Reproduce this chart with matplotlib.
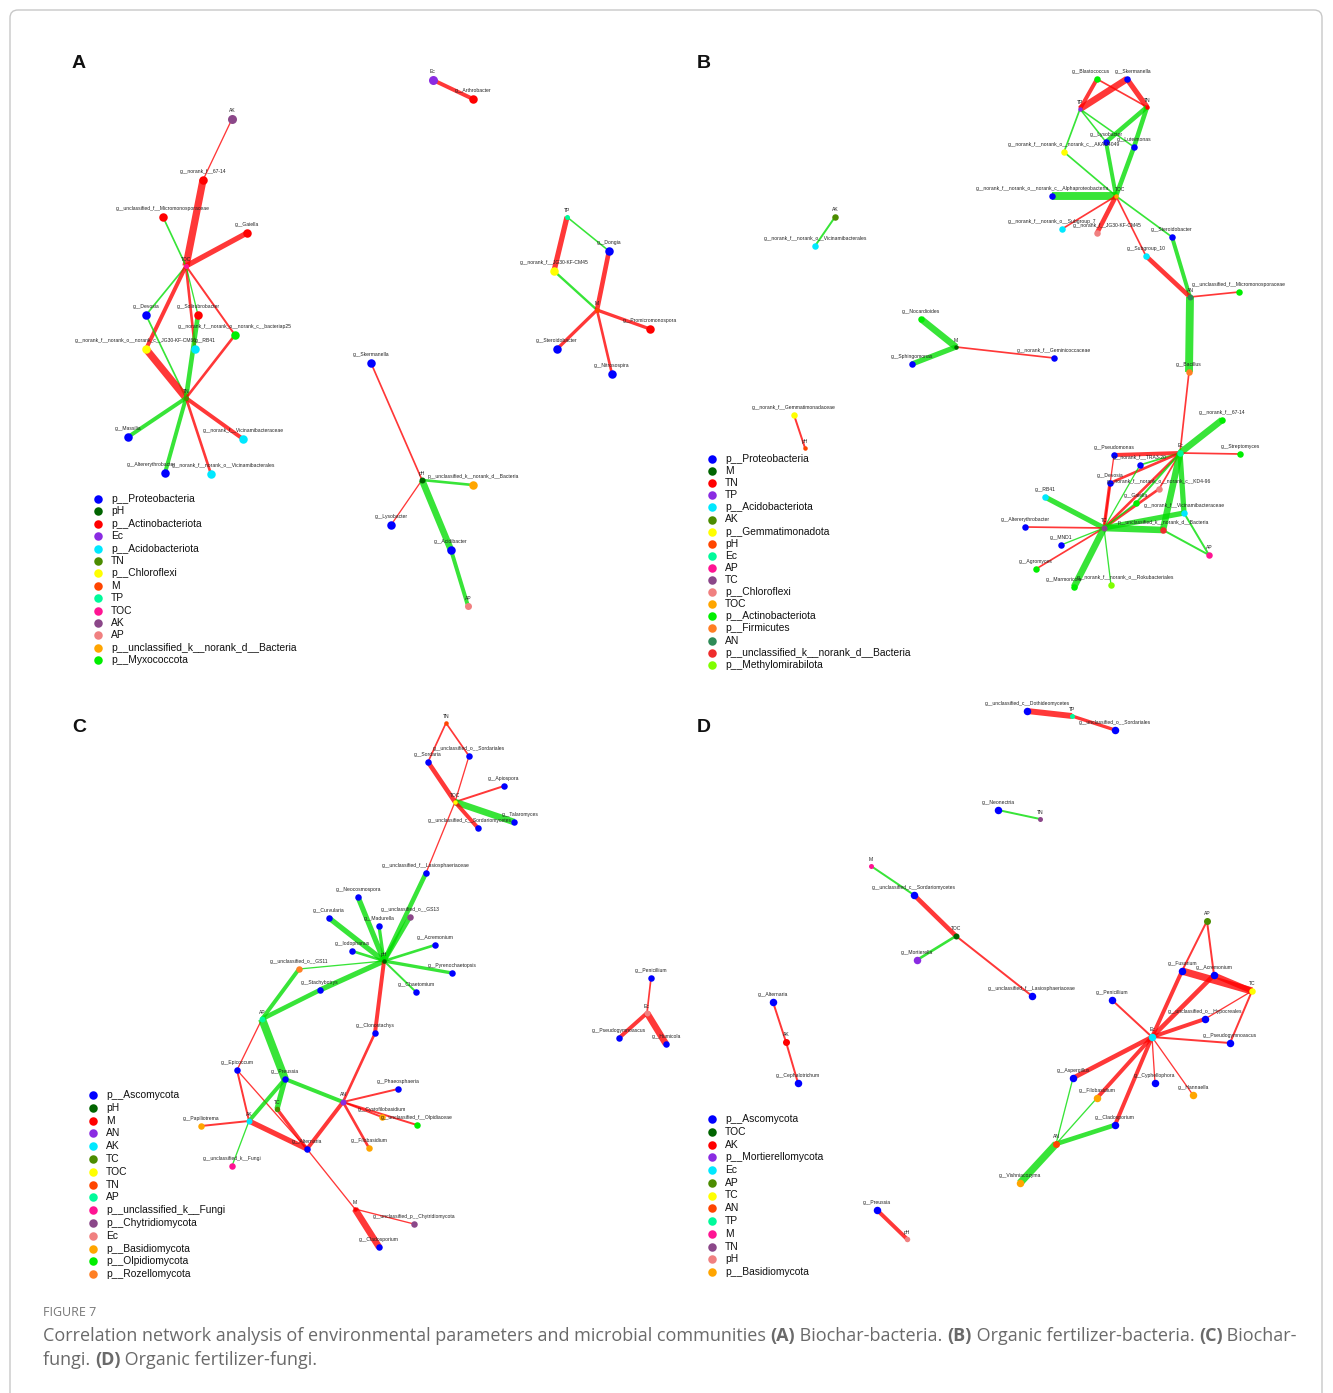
import matplotlib.pyplot as plt
from matplotlib.patches import FancyBboxPatch

plt.rcParams["font.family"] = ["Liberation Sans", "DejaVu Sans"]

DPI = 100
W, H = 1333, 1393

# colour cycle used for the legend groups, in legend order
PALETTE = ["#0000ff", "#006400", "#ff0000", "#8a2be2", "#00e8ff", "#4c8c00",
           "#ffff00", "#ff4500", "#00fa9a", "#ff1493", "#8b4789", "#f08080",
           "#ffa500", "#00ee00", "#ff7f24", "#2e8b57", "#ee2c2c", "#7fff00"]
RED = "#ff0000"
GREEN = "#00dd00"

ENV = {"pH", "TN", "TP", "TOC", "AK", "AP", "AN", "TC", "M", "Ec"}

# ---------------- A: biochar - bacteria ----------------
A_groups = ["p__Proteobacteria", "pH", "p__Actinobacteriota", "Ec", "p__Acidobacteriota",
            "TN", "p__Chloroflexi", "M", "TP", "TOC", "AK", "AP",
            "p__unclassified_k__norank_d__Bacteria", "p__Myxococcota"]
A_nodes = {
    "AK": "AK", "TOC": "TOC", "TN": "TN", "Ec": "Ec", "TP": "TP", "M": "M", "pH": "pH", "AP": "AP",
    "g__norank_f__67-14": "p__Actinobacteriota",
    "g__unclassified_f__Micromonosporaceae": "p__Actinobacteriota",
    "g__Gaiella": "p__Actinobacteriota",
    "g__Devosia": "p__Proteobacteria",
    "g__Solirubrobacter": "p__Actinobacteriota",
    "g__norank_f__norank_o__norank_c__bacteriap25": "p__Myxococcota",
    "g__norank_f__norank_o__norank_c__JG30-KF-CM66": "p__Chloroflexi",
    "g__RB41": "p__Acidobacteriota",
    "g__Massilia": "p__Proteobacteria",
    "g__norank_f__Vicinamibacteraceae": "p__Acidobacteriota",
    "g__Altererythrobacter": "p__Proteobacteria",
    "g__norank_f__norank_o__Vicinamibacterales": "p__Acidobacteriota",
    "g__Arthrobacter": "p__Actinobacteriota",
    "g__Dongia": "p__Proteobacteria",
    "g__norank_f__JG30-KF-CM45": "p__Chloroflexi",
    "g__Promicromonospora": "p__Actinobacteriota",
    "g__Steroidobacter": "p__Proteobacteria",
    "g__Nitrosospira": "p__Proteobacteria",
    "g__Skermanella": "p__Proteobacteria",
    "p__unclassified_k__norank_d__Bacteria": "p__unclassified_k__norank_d__Bacteria",
    "g__Lysobacter": "p__Proteobacteria",
    "g__Acidibacter": "p__Proteobacteria",
}
# signed edge strength: + positive (red), - negative (green)
A_edges = [
    ("AK", "g__norank_f__67-14", 1.0),
    ("g__norank_f__67-14", "TOC", 5.5),
    ("g__unclassified_f__Micromonosporaceae", "TOC", -1.3),
    ("g__Gaiella", "TOC", 4.0),
    ("TOC", "g__Devosia", -1.3),
    ("TOC", "g__norank_f__norank_o__norank_c__JG30-KF-CM66", 3.0),
    ("TOC", "g__RB41", 2.0),
    ("TOC", "g__Solirubrobacter", -1.0),
    ("TOC", "g__norank_f__norank_o__norank_c__bacteriap25", 1.5),
    ("g__Devosia", "TN", -1.3),
    ("g__norank_f__norank_o__norank_c__JG30-KF-CM66", "TN", 5.5),
    ("g__Solirubrobacter", "TN", -3.5),
    ("g__norank_f__norank_o__norank_c__bacteriap25", "TN", 2.0),
    ("TN", "g__Massilia", -3.0),
    ("TN", "g__norank_f__Vicinamibacteraceae", 3.0),
    ("TN", "g__Altererythrobacter", -3.0),
    ("TN", "g__norank_f__norank_o__Vicinamibacterales", 2.0),
    ("Ec", "g__Arthrobacter", 3.0),
    ("TP", "g__norank_f__JG30-KF-CM45", 4.0),
    ("TP", "g__Dongia", -1.2),
    ("g__norank_f__JG30-KF-CM45", "M", -1.8),
    ("g__Dongia", "M", 3.5),
    ("M", "g__Promicromonospora", 2.5),
    ("M", "g__Steroidobacter", 2.5),
    ("M", "g__Nitrosospira", 2.0),
    ("g__Skermanella", "pH", 1.3),
    ("pH", "p__unclassified_k__norank_d__Bacteria", -2.0),
    ("pH", "g__Lysobacter", 1.0),
    ("pH", "g__Acidibacter", -5.0),
    ("g__Acidibacter", "AP", -3.0),
]

# ---------------- B: organic fertilizer - bacteria ----------------
B_groups = ["p__Proteobacteria", "M", "TN", "TP", "p__Acidobacteriota", "AK",
            "p__Gemmatimonadota", "pH", "Ec", "AP", "TC", "p__Chloroflexi", "TOC",
            "p__Actinobacteriota", "p__Firmicutes", "AN",
            "p__unclassified_k__norank_d__Bacteria", "p__Methylomirabilota"]
B_nodes = {
    "TP": "TP", "TN": "TN", "TOC": "TOC", "AN": "AN", "Ec": "Ec", "TC": "TC", "AP": "AP",
    "AK": "AK", "M": "M", "pH": "pH",
    "g__Blastococcus": "p__Actinobacteriota",
    "g__Skermanella": "p__Proteobacteria",
    "g__Lysobacter": "p__Proteobacteria",
    "g__Luteimonas": "p__Proteobacteria",
    "g__norank_f__norank_o__norank_c__AKAU4049": "p__Gemmatimonadota",
    "g__norank_f__norank_o__norank_c__Alphaproteobacteria": "p__Proteobacteria",
    "g__norank_f__norank_o__Subgroup_7": "p__Acidobacteriota",
    "g__norank_f__JG30-KF-CM45": "p__Chloroflexi",
    "g__Steroidobacter": "p__Proteobacteria",
    "g__Subgroup_10": "p__Acidobacteriota",
    "g__unclassified_f__Micromonosporaceae": "p__Actinobacteriota",
    "g__Bacillus": "p__Firmicutes",
    "g__norank_f__67-14": "p__Actinobacteriota",
    "g__Streptomyces": "p__Actinobacteriota",
    "g__Pseudomonas": "p__Proteobacteria",
    "g__norank_f__TRA3-20": "p__Proteobacteria",
    "g__Devosia": "p__Proteobacteria",
    "g__norank_f__norank_o__norank_c__KD4-96": "p__Chloroflexi",
    "g__Gaiella": "p__Actinobacteriota",
    "g__RB41": "p__Acidobacteriota",
    "g__norank_f__Vicinamibacteraceae": "p__Acidobacteriota",
    "g__Altererythrobacter": "p__Proteobacteria",
    "p__unclassified_k__norank_d__Bacteria": "p__unclassified_k__norank_d__Bacteria",
    "g__MND1": "p__Proteobacteria",
    "g__Agromyces": "p__Actinobacteriota",
    "g__Marmoricola": "p__Actinobacteriota",
    "g__norank_f__norank_o__Rokubacteriales": "p__Methylomirabilota",
    "g__norank_f__norank_o__Vicinamibacterales": "p__Acidobacteriota",
    "g__Nocardioides": "p__Actinobacteriota",
    "g__Sphingomonas": "p__Proteobacteria",
    "g__norank_f__Geminicoccaceae": "p__Proteobacteria",
    "g__norank_f__Gemmatimonadaceae": "p__Gemmatimonadota",
}
B_edges = [
    ("g__Blastococcus", "TP", 3.0),
    ("g__Blastococcus", "TN", 1.3),
    ("g__Skermanella", "TP", 5.0),
    ("g__Skermanella", "TN", 4.0),
    ("TP", "g__norank_f__norank_o__norank_c__AKAU4049", -1.3),
    ("TP", "g__Lysobacter", -1.2),
    ("TP", "g__Luteimonas", -1.2),
    ("TN", "g__Lysobacter", -3.5),
    ("TN", "g__Luteimonas", -3.5),
    ("g__Luteimonas", "TOC", -3.5),
    ("g__Lysobacter", "TOC", -3.0),
    ("g__norank_f__norank_o__norank_c__AKAU4049", "TOC", -1.3),
    ("g__norank_f__norank_o__norank_c__Alphaproteobacteria", "TOC", -6.0),
    ("TOC", "g__norank_f__norank_o__Subgroup_7", 1.3),
    ("TOC", "g__norank_f__JG30-KF-CM45", 3.5),
    ("TOC", "g__Subgroup_10", 1.3),
    ("TOC", "g__Steroidobacter", -1.3),
    ("g__Steroidobacter", "AN", -3.0),
    ("g__Subgroup_10", "AN", 3.5),
    ("AN", "g__unclassified_f__Micromonosporaceae", 1.3),
    ("AN", "g__Bacillus", -6.0),
    ("g__Bacillus", "Ec", 1.3),
    ("Ec", "g__norank_f__67-14", -5.0),
    ("Ec", "g__Streptomyces", 1.3),
    ("Ec", "g__Pseudomonas", 3.0),
    ("Ec", "g__norank_f__TRA3-20", -1.3),
    ("Ec", "g__Devosia", 2.0),
    ("Ec", "TC", 2.0),
    ("Ec", "g__norank_f__norank_o__norank_c__KD4-96", 1.3),
    ("Ec", "g__Gaiella", -1.5),
    ("Ec", "g__norank_f__Vicinamibacteraceae", -4.0),
    ("Ec", "p__unclassified_k__norank_d__Bacteria", -5.0),
    ("g__Pseudomonas", "TC", 1.0),
    ("g__Devosia", "TC", 2.5),
    ("g__norank_f__TRA3-20", "TC", -1.0),
    ("g__norank_f__norank_o__norank_c__KD4-96", "TC", 2.0),
    ("g__Gaiella", "TC", -1.2),
    ("TC", "g__RB41", -4.0),
    ("TC", "g__Altererythrobacter", 1.3),
    ("TC", "g__MND1", -1.0),
    ("TC", "g__Agromyces", 1.3),
    ("TC", "g__Marmoricola", -5.0),
    ("TC", "g__norank_f__norank_o__Rokubacteriales", -1.0),
    ("TC", "g__norank_f__Vicinamibacteraceae", -4.0),
    ("TC", "p__unclassified_k__norank_d__Bacteria", -5.0),
    ("p__unclassified_k__norank_d__Bacteria", "AP", -1.5),
    ("g__norank_f__Vicinamibacteraceae", "AP", -1.5),
    ("AK", "g__norank_f__norank_o__Vicinamibacterales", -1.5),
    ("M", "g__Nocardioides", -5.0),
    ("M", "g__Sphingomonas", -4.0),
    ("M", "g__norank_f__Geminicoccaceae", 1.3),
    ("g__norank_f__Gemmatimonadaceae", "pH", 1.5),
]

# ---------------- C: biochar - fungi ----------------
C_groups = ["p__Ascomycota", "pH", "M", "AN", "AK", "TC", "TOC", "TN", "AP",
            "p__unclassified_k__Fungi", "p__Chytridiomycota", "Ec", "p__Basidiomycota",
            "p__Olpidiomycota", "p__Rozellomycota"]
C_nodes = {
    "TN": "TN", "TOC": "TOC", "pH": "pH", "AP": "AP", "AN": "AN", "TC": "TC", "AK": "AK",
    "M": "M", "Ec": "Ec",
    "g__Sordaria": "p__Ascomycota",
    "g__unclassified_o__Sordariales": "p__Ascomycota",
    "g__Apiospora": "p__Ascomycota",
    "g__Talaromyces": "p__Ascomycota",
    "g__unclassified_c__Sordariomycetes": "p__Ascomycota",
    "g__unclassified_f__Lasiosphaeriaceae": "p__Ascomycota",
    "g__Neocosmospora": "p__Ascomycota",
    "g__unclassified_o__GS13": "p__Chytridiomycota",
    "g__Curvularia": "p__Ascomycota",
    "g__Madurella": "p__Ascomycota",
    "g__Acremonium": "p__Ascomycota",
    "g__Iodophanus": "p__Ascomycota",
    "g__unclassified_o__GS11": "p__Rozellomycota",
    "g__Pyrenochaetopsis": "p__Ascomycota",
    "g__Stachybotrys": "p__Ascomycota",
    "g__Chaetomium": "p__Ascomycota",
    "g__Clonostachys": "p__Ascomycota",
    "g__Epicoccum": "p__Ascomycota",
    "g__Preussia": "p__Ascomycota",
    "g__Phaeosphaeria": "p__Ascomycota",
    "g__Cystofilobasidium": "p__Basidiomycota",
    "g__unclassified_f__Olpidiaceae": "p__Olpidiomycota",
    "g__Papiliotrema": "p__Basidiomycota",
    "g__Filobasidium": "p__Basidiomycota",
    "g__Alternaria": "p__Ascomycota",
    "g__unclassified_k__Fungi": "p__unclassified_k__Fungi",
    "g__unclassified_p__Chytridiomycota": "p__Chytridiomycota",
    "g__Cladosporium": "p__Ascomycota",
    "g__Penicillium": "p__Ascomycota",
    "g__Pseudogymnoascus": "p__Ascomycota",
    "g__Humicola": "p__Ascomycota",
}
C_edges = [
    ("TN", "g__Sordaria", 1.3),
    ("TN", "g__unclassified_o__Sordariales", 1.3),
    ("g__Sordaria", "TOC", 3.5),
    ("g__unclassified_o__Sordariales", "TOC", 1.0),
    ("TOC", "g__Apiospora", 1.5),
    ("TOC", "g__Talaromyces", -5.0),
    ("TOC", "g__unclassified_c__Sordariomycetes", 3.0),
    ("TOC", "g__unclassified_f__Lasiosphaeriaceae", 1.0),
    ("g__unclassified_f__Lasiosphaeriaceae", "pH", -3.5),
    ("pH", "g__Neocosmospora", -4.0),
    ("pH", "g__unclassified_o__GS13", -3.5),
    ("pH", "g__Curvularia", -4.0),
    ("pH", "g__Madurella", -2.5),
    ("pH", "g__Iodophanus", -2.0),
    ("pH", "g__Acremonium", -2.0),
    ("pH", "g__unclassified_o__GS11", -1.0),
    ("pH", "g__Pyrenochaetopsis", -2.5),
    ("pH", "g__Chaetomium", -1.5),
    ("pH", "g__Stachybotrys", -4.0),
    ("pH", "g__Clonostachys", 3.0),
    ("g__Stachybotrys", "AP", -3.5),
    ("g__unclassified_o__GS11", "AP", -3.0),
    ("AP", "g__Epicoccum", 1.0),
    ("AP", "g__Preussia", -6.0),
    ("g__Clonostachys", "AN", 2.0),
    ("g__Epicoccum", "AK", 1.5),
    ("g__Epicoccum", "g__Alternaria", 1.0),
    ("g__Preussia", "TC", -4.0),
    ("g__Preussia", "AN", -3.0),
    ("g__Preussia", "AK", -3.0),
    ("TC", "g__Alternaria", 2.5),
    ("AK", "g__Papiliotrema", 1.5),
    ("AK", "g__Alternaria", 4.0),
    ("AK", "g__unclassified_k__Fungi", -1.0),
    ("AN", "g__Phaeosphaeria", 1.5),
    ("AN", "g__Cystofilobasidium", 1.5),
    ("AN", "g__unclassified_f__Olpidiaceae", 1.5),
    ("AN", "g__Filobasidium", 2.0),
    ("AN", "g__Alternaria", 3.0),
    ("g__Alternaria", "M", 1.0),
    ("M", "g__unclassified_p__Chytridiomycota", 1.0),
    ("M", "g__Cladosporium", 5.0),
    ("g__Penicillium", "Ec", 1.3),
    ("Ec", "g__Pseudogymnoascus", 3.0),
    ("Ec", "g__Humicola", 5.0),
]

# ---------------- D: organic fertilizer - fungi ----------------
D_groups = ["p__Ascomycota", "TOC", "AK", "p__Mortierellomycota", "Ec", "AP", "TC",
            "AN", "TP", "M", "TN", "pH", "p__Basidiomycota"]
D_nodes = {
    "TP": "TP", "TN": "TN", "M": "M", "TOC": "TOC", "AP": "AP", "TC": "TC", "Ec": "Ec",
    "AN": "AN", "AK": "AK", "pH": "pH",
    "g__unclassified_c__Dothideomycetes": "p__Ascomycota",
    "g__unclassified_o__Sordariales": "p__Ascomycota",
    "g__Neonectria": "p__Ascomycota",
    "g__unclassified_c__Sordariomycetes": "p__Ascomycota",
    "g__Mortierella": "p__Mortierellomycota",
    "g__unclassified_f__Lasiosphaeriaceae": "p__Ascomycota",
    "g__Fusarium": "p__Ascomycota",
    "g__Acremonium": "p__Ascomycota",
    "g__Penicillium": "p__Ascomycota",
    "g__unclassified_o__Hypocreales": "p__Ascomycota",
    "g__Pseudogymnoascus": "p__Ascomycota",
    "g__Aspergillus": "p__Ascomycota",
    "g__Cyphellophora": "p__Ascomycota",
    "g__Filobasidium": "p__Basidiomycota",
    "g__Hannaella": "p__Basidiomycota",
    "g__Cladosporium": "p__Ascomycota",
    "g__Vishniacozyma": "p__Basidiomycota",
    "g__Alternaria": "p__Ascomycota",
    "g__Cephalotrichum": "p__Ascomycota",
    "g__Preussia": "p__Ascomycota",
}
D_edges = [
    ("g__unclassified_c__Dothideomycetes", "TP", 4.5),
    ("TP", "g__unclassified_o__Sordariales", 2.5),
    ("g__Neonectria", "TN", -1.5),
    ("M", "g__unclassified_c__Sordariomycetes", -1.5),
    ("g__unclassified_c__Sordariomycetes", "TOC", 3.5),
    ("TOC", "g__Mortierella", -2.0),
    ("TOC", "g__unclassified_f__Lasiosphaeriaceae", 1.5),
    ("AP", "g__Fusarium", 1.5),
    ("AP", "g__Acremonium", 1.5),
    ("g__Fusarium", "TC", 5.5),
    ("g__Acremonium", "TC", 4.0),
    ("g__Fusarium", "Ec", 3.0),
    ("g__Acremonium", "Ec", 3.5),
    ("TC", "g__unclassified_o__Hypocreales", 1.0),
    ("TC", "g__Pseudogymnoascus", 1.5),
    ("g__Penicillium", "Ec", 1.5),
    ("g__unclassified_o__Hypocreales", "Ec", 3.0),
    ("g__Pseudogymnoascus", "Ec", 1.5),
    ("Ec", "g__Aspergillus", 3.5),
    ("Ec", "g__Filobasidium", 3.0),
    ("Ec", "g__Cyphellophora", 1.0),
    ("Ec", "g__Hannaella", 1.0),
    ("Ec", "g__Cladosporium", 3.0),
    ("g__Aspergillus", "AN", -1.0),
    ("g__Filobasidium", "AN", -1.0),
    ("g__Cladosporium", "AN", -3.5),
    ("AN", "g__Vishniacozyma", -5.5),
    ("g__Alternaria", "AK", 1.5),
    ("AK", "g__Cephalotrichum", 1.5),
    ("g__Preussia", "pH", 3.0),
]

# ---------------- layouts (figure pixel space) ----------------
A_pos = {
    "AK": (232, 119), "g__norank_f__67-14": (203, 180),
    "g__unclassified_f__Micromonosporaceae": (163, 217), "g__Gaiella": (247, 233),
    "TOC": (186, 266), "g__Devosia": (146, 315), "g__Solirubrobacter": (198, 315),
    "g__norank_f__norank_o__norank_c__bacteriap25": (235, 335),
    "g__norank_f__norank_o__norank_c__JG30-KF-CM66": (146, 349), "g__RB41": (195, 349),
    "TN": (186, 398), "g__Massilia": (128, 437), "g__norank_f__Vicinamibacteraceae": (243, 439),
    "g__Altererythrobacter": (165, 473), "g__norank_f__norank_o__Vicinamibacterales": (211, 474),
    "Ec": (433, 80), "g__Arthrobacter": (473, 99), "TP": (567, 217), "g__Dongia": (609, 251),
    "g__norank_f__JG30-KF-CM45": (554, 271), "M": (597, 310), "g__Promicromonospora": (650, 329),
    "g__Steroidobacter": (557, 349), "g__Nitrosospira": (612, 374), "g__Skermanella": (371, 363),
    "pH": (422, 480), "p__unclassified_k__norank_d__Bacteria": (473, 485),
    "g__Lysobacter": (391, 525), "g__Acidibacter": (451, 550), "AP": (468, 606),
}
B_pos = {
    "g__Blastococcus": (1097, 79), "g__Skermanella": (1127, 79), "TP": (1080, 109),
    "TN": (1147, 107), "g__Lysobacter": (1106, 142), "g__Luteimonas": (1134, 147),
    "g__norank_f__norank_o__norank_c__AKAU4049": (1064, 152),
    "g__norank_f__norank_o__norank_c__Alphaproteobacteria": (1052, 196), "TOC": (1116, 196),
    "g__norank_f__norank_o__Subgroup_7": (1062, 229), "g__norank_f__JG30-KF-CM45": (1097, 233),
    "g__Steroidobacter": (1172, 237), "g__Subgroup_10": (1146, 256), "AN": (1190, 297),
    "g__unclassified_f__Micromonosporaceae": (1239, 292), "g__Bacillus": (1189, 372),
    "Ec": (1180, 453), "g__norank_f__67-14": (1222, 420), "g__Streptomyces": (1240, 454),
    "g__Pseudomonas": (1114, 455), "g__norank_f__TRA3-20": (1140, 465), "g__Devosia": (1110, 483),
    "g__norank_f__norank_o__norank_c__KD4-96": (1159, 489), "g__Gaiella": (1136, 503),
    "g__RB41": (1045, 497), "g__norank_f__Vicinamibacteraceae": (1184, 513),
    "g__Altererythrobacter": (1025, 527), "TC": (1104, 528),
    "p__unclassified_k__norank_d__Bacteria": (1163, 530), "g__MND1": (1061, 545),
    "AP": (1209, 555), "g__Agromyces": (1036, 569), "g__Marmoricola": (1074, 587),
    "g__norank_f__norank_o__Rokubacteriales": (1111, 585), "AK": (835, 217),
    "g__norank_f__norank_o__Vicinamibacterales": (815, 246), "g__Nocardioides": (921, 319),
    "M": (956, 347), "g__Sphingomonas": (912, 364), "g__norank_f__Geminicoccaceae": (1054, 358),
    "g__norank_f__Gemmatimonadaceae": (794, 415), "pH": (805, 448),
}
C_pos = {
    "TN": (446, 723), "g__Sordaria": (428, 762), "g__unclassified_o__Sordariales": (469, 756),
    "g__Apiospora": (504, 786), "TOC": (455, 802), "g__Talaromyces": (514, 822),
    "g__unclassified_c__Sordariomycetes": (478, 828),
    "g__unclassified_f__Lasiosphaeriaceae": (426, 873), "g__Neocosmospora": (358, 897),
    "g__unclassified_o__GS13": (410, 917), "g__Curvularia": (329, 918), "g__Madurella": (379, 926),
    "g__Acremonium": (435, 945), "g__Iodophanus": (352, 951), "pH": (384, 961),
    "g__unclassified_o__GS11": (299, 969), "g__Pyrenochaetopsis": (452, 973),
    "g__Stachybotrys": (320, 990), "g__Chaetomium": (416, 992), "AP": (262, 1019),
    "g__Clonostachys": (375, 1033), "g__Epicoccum": (237, 1070), "g__Preussia": (285, 1079),
    "g__Phaeosphaeria": (398, 1089), "AN": (343, 1102), "TC": (277, 1109),
    "g__Cystofilobasidium": (382, 1117), "g__unclassified_f__Olpidiaceae": (417, 1125),
    "AK": (249, 1121), "g__Papiliotrema": (201, 1126), "g__Filobasidium": (369, 1148),
    "g__Alternaria": (307, 1149), "g__unclassified_k__Fungi": (232, 1166), "M": (355, 1209),
    "g__unclassified_p__Chytridiomycota": (414, 1224), "g__Cladosporium": (379, 1247),
    "g__Penicillium": (651, 978), "Ec": (647, 1013), "g__Pseudogymnoascus": (619, 1038),
    "g__Humicola": (666, 1044),
}
D_pos = {
    "g__unclassified_c__Dothideomycetes": (1027, 711), "TP": (1072, 716),
    "g__unclassified_o__Sordariales": (1115, 730), "g__Neonectria": (998, 810), "TN": (1040, 819),
    "M": (871, 866), "g__unclassified_c__Sordariomycetes": (914, 895), "TOC": (956, 936),
    "g__Mortierella": (917, 960), "g__unclassified_f__Lasiosphaeriaceae": (1032, 996),
    "AP": (1207, 921), "g__Fusarium": (1182, 971), "g__Acremonium": (1214, 975),
    "TC": (1252, 991), "g__Penicillium": (1112, 1000), "g__unclassified_o__Hypocreales": (1205, 1019),
    "Ec": (1152, 1037), "g__Pseudogymnoascus": (1230, 1043), "g__Aspergillus": (1073, 1078),
    "g__Cyphellophora": (1155, 1083), "g__Filobasidium": (1097, 1098), "g__Hannaella": (1193, 1095),
    "g__Cladosporium": (1115, 1125), "AN": (1056, 1144), "g__Vishniacozyma": (1020, 1183),
    "g__Alternaria": (773, 1002), "AK": (786, 1042), "g__Cephalotrichum": (798, 1083),
    "g__Preussia": (877, 1210), "pH": (907, 1239),
}

# label nudges (dx, dy) where neighbouring labels would sit on top of each other
A_nudge = {"g__norank_f__norank_o__norank_c__JG30-KF-CM66": (-10, 0), "g__RB41": (10, 0),
           "g__Altererythrobacter": (-14, 0), "g__norank_f__norank_o__Vicinamibacterales": (12, 0)}
B_nudge = {"g__norank_f__norank_o__norank_c__Alphaproteobacteria": (-10, 0), "TOC": (4, 0),
           "g__Blastococcus": (-6, 0), "g__Skermanella": (6, 0),
           "g__Marmoricola": (-10, 0), "g__norank_f__norank_o__Rokubacteriales": (14, 0),
           "g__norank_f__norank_o__Subgroup_7": (-10, 0), "g__norank_f__JG30-KF-CM45": (10, 0)}
C_nudge = {"g__unclassified_c__Sordariomycetes": (-8, 0), "g__Talaromyces": (6, 0)}
D_nudge = {}

# node diameters in pixels: taxa, environmental factors, and the larger factor nodes
A_size = (8.5, 5, {"AK": 9, "Ec": 9, "AP": 7, "pH": 6})
B_size = (6.5, 4.5, {"AN": 6, "Ec": 6.5, "TC": 6, "AP": 6.5, "AK": 6.5})
C_size = (6.5, 4.5, {"AP": 6, "AK": 6, "AN": 6, "TC": 5.5, "Ec": 6})
D_size = (7.5, 5, {"AP": 7, "AK": 7, "AN": 7, "Ec": 7.5, "TC": 6.5, "TOC": 6, "pH": 5.5})

# legend anchor (marker x, first row y, row step)
A_leg = (98, 499, 12.4)
B_leg = (712, 459, 12.1)
C_leg = (93, 1095, 12.8)
D_leg = (712, 1119, 12.75)


def pt(px):
    return px * 72 / DPI


def draw_network(ax, groups, nodes, pos, edges, sizes, leg, nudge):
    colour = {g: PALETTE[i] for i, g in enumerate(groups)}
    for u, v, r in edges:
        (x1, y1), (x2, y2) = pos[u], pos[v]
        ax.plot([x1, x2], [y1, y2], color=RED if r > 0 else GREEN,
                lw=abs(r) * 0.95, alpha=0.78, solid_capstyle="butt", zorder=1)
    taxon_d, env_d, special = sizes
    for name, grp in nodes.items():
        x, y = pos[name]
        d = special.get(name, env_d if name in ENV else taxon_d)
        ax.scatter([x], [y], s=pt(d) ** 2, color=colour[grp], linewidths=0, zorder=3)
        dx, dy = nudge.get(name, (0, 0))
        ax.text(x + dx, y - d / 2 - 1.5 + dy, name, fontsize=3.6, color="#222222",
                ha="center", va="bottom", zorder=4)
    lx, ly, step = leg
    for i, g in enumerate(groups):
        y = ly + i * step
        ax.scatter([lx], [y], s=pt(8.5) ** 2, color=colour[g], linewidths=0, zorder=3)
        ax.text(lx + 13, y, g, fontsize=7.4, color="#111111", ha="left", va="center")


def write_runs(ax, x, y, runs, size, colour, family):
    renderer = ax.figure.canvas.get_renderer()
    placed = []
    for text, weight in runs:
        t = ax.text(x, y, text, fontsize=size, fontweight=weight, color=colour,
                    ha="left", va="center", family=family)
        x += t.get_window_extent(renderer).width
        placed.append(t)
    return x, placed


fig = plt.figure(figsize=(W / DPI, H / DPI), dpi=DPI)
ax = fig.add_axes([0, 0, 1, 1])
ax.set_xlim(0, W)
ax.set_ylim(H, 0)
ax.axis("off")

ax.add_patch(FancyBboxPatch((10, 10), W - 21, H + 20, boxstyle="round,pad=0,rounding_size=8",
                            facecolor="white", edgecolor="#c8c8c8", lw=1, zorder=0))

draw_network(ax, A_groups, A_nodes, A_pos, A_edges, A_size, A_leg, A_nudge)
draw_network(ax, B_groups, B_nodes, B_pos, B_edges, B_size, B_leg, B_nudge)
draw_network(ax, C_groups, C_nodes, C_pos, C_edges, C_size, C_leg, C_nudge)
draw_network(ax, D_groups, D_nodes, D_pos, D_edges, D_size, D_leg, D_nudge)

for letter, (x, y) in zip("ABCD", [(79, 63), (704, 63), (79, 727), (704, 727)]):
    ax.text(x, y, letter, fontsize=14, fontweight="bold", ha="center", va="center", color="#111111")

cap_font = ["Open Sans", "DejaVu Sans"]
cap_grey = "#6a6a6a"
ax.text(43, 1312, "FIGURE 7", fontsize=9, color="#777777", ha="left", va="center", family=cap_font)

line1 = [("Correlation network analysis of environmental parameters and microbial communities ", "normal"),
         ("(A)", "bold"), (" Biochar-bacteria. ", "normal"), ("(B)", "bold"),
         (" Organic fertilizer-bacteria. ", "normal"), ("(C)", "bold"), (" Biochar-", "normal")]
line2 = [("fungi. ", "normal"), ("(D)", "bold"), (" Organic fertilizer-fungi.", "normal")]

# size the caption so the first line ends where the text block wraps
probe_end, probe = write_runs(ax, 0, -100, line1, 12, cap_grey, cap_font)
for t in probe:
    t.remove()
cap_size = 12 * (1293 - 43) / probe_end
write_runs(ax, 43, 1336, line1, cap_size, cap_grey, cap_font)
write_runs(ax, 43, 1360, line2, cap_size, cap_grey, cap_font)

fig.savefig("out.png", dpi=DPI)
